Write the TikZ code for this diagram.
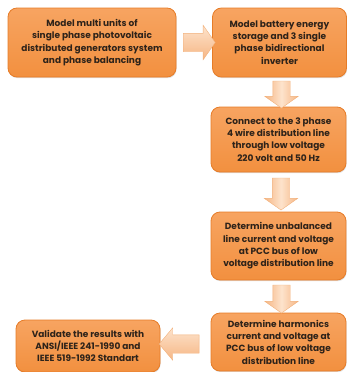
\documentclass[tikz,border=0pt]{standalone}
\usepackage{fontspec}
\setmainfont{Poppins}
\usetikzlibrary{shapes.arrows,shadows}

\definecolor{boxtop}{HTML}{F7A461}
\definecolor{boxmid}{HTML}{F9B47D}
\definecolor{boxbot}{HTML}{F2903F}
\definecolor{boxline}{HTML}{E67C28}
\definecolor{arrtop}{HTML}{FDE3CC}
\definecolor{arrbot}{HTML}{F6B684}
\definecolor{arrline}{HTML}{F2B07A}
\definecolor{textcol}{HTML}{2E231A}

\tikzset{
  stepbox/.style={draw=boxline, line width=0.8pt, rounded corners=9pt,
    top color=boxtop, middle color=boxmid, bottom color=boxbot,
    align=center, text=textcol, inner sep=1pt,
    font=\bfseries\fontsize{9}{12.3}\selectfont,
    drop shadow={opacity=0.25, shadow xshift=0.6pt, shadow yshift=-1.2pt}},
  flowarrow/.style={single arrow, draw=arrline, line width=0.4pt,
    top color=arrtop, bottom color=arrbot, inner xsep=0pt, inner ysep=9pt,
    single arrow head extend=8pt, single arrow tip angle=110},
  downarrow/.style={flowarrow, inner xsep=8.5pt, inner ysep=0pt,
    shape border rotate=270, left color=arrbot, right color=arrbot,
    middle color=arrtop}
}

\begin{document}
\begin{tikzpicture}[x=1pt,y=-1pt]
\useasboundingbox (0,0) rectangle (347,372);

% ===== Boxes =====
\node[stepbox, minimum width=168pt, minimum height=69pt] (b1) at (92,42.5)
  {Model multi units of\\single phase photovoltaic\\distributed generators system\\and phase balancing};
\node[stepbox, minimum width=134pt, minimum height=69pt] (b2) at (279.5,42.5)
  {Model battery energy\\storage and 3 single\\phase bidirectional\\inverter};
\node[stepbox, minimum width=135pt, minimum height=65pt] (b3) at (278.5,139.5)
  {Connect to the 3 phase\\4 wire distribution line\\through low voltage\\220 volt and 50 Hz};
\node[stepbox, minimum width=135pt, minimum height=68pt] (b4) at (278.5,246)
  {Determine unbalanced\\line current and voltage\\at PCC bus of low\\voltage distribution line};
\node[stepbox, minimum width=135pt, minimum height=58pt] (b5) at (278.5,342)
  {Determine harmonics\\current and voltage at\\PCC bus of low voltage\\distribution line};
\node[stepbox, minimum width=144pt, minimum height=52pt] (b6) at (88,346)
  {Validate the results with\\ANSI/IEEE 241-1990 and\\IEEE 519-1992 Standart};

% ===== Arrows =====
\node[flowarrow, minimum height=32pt] (a1) at (196,42.5) {};
\node[downarrow, minimum height=27pt] (a2) at (281.5,91.5) {};
\node[downarrow, minimum height=32pt] (a3) at (281,191) {};
\node[downarrow, minimum height=28pt] (a4) at (281.5,296) {};
\node[flowarrow, minimum height=40pt, single arrow head extend=7pt,
  single arrow tip angle=100, shape border rotate=180] (a5) at (183,344) {};

\end{tikzpicture}
\end{document}
